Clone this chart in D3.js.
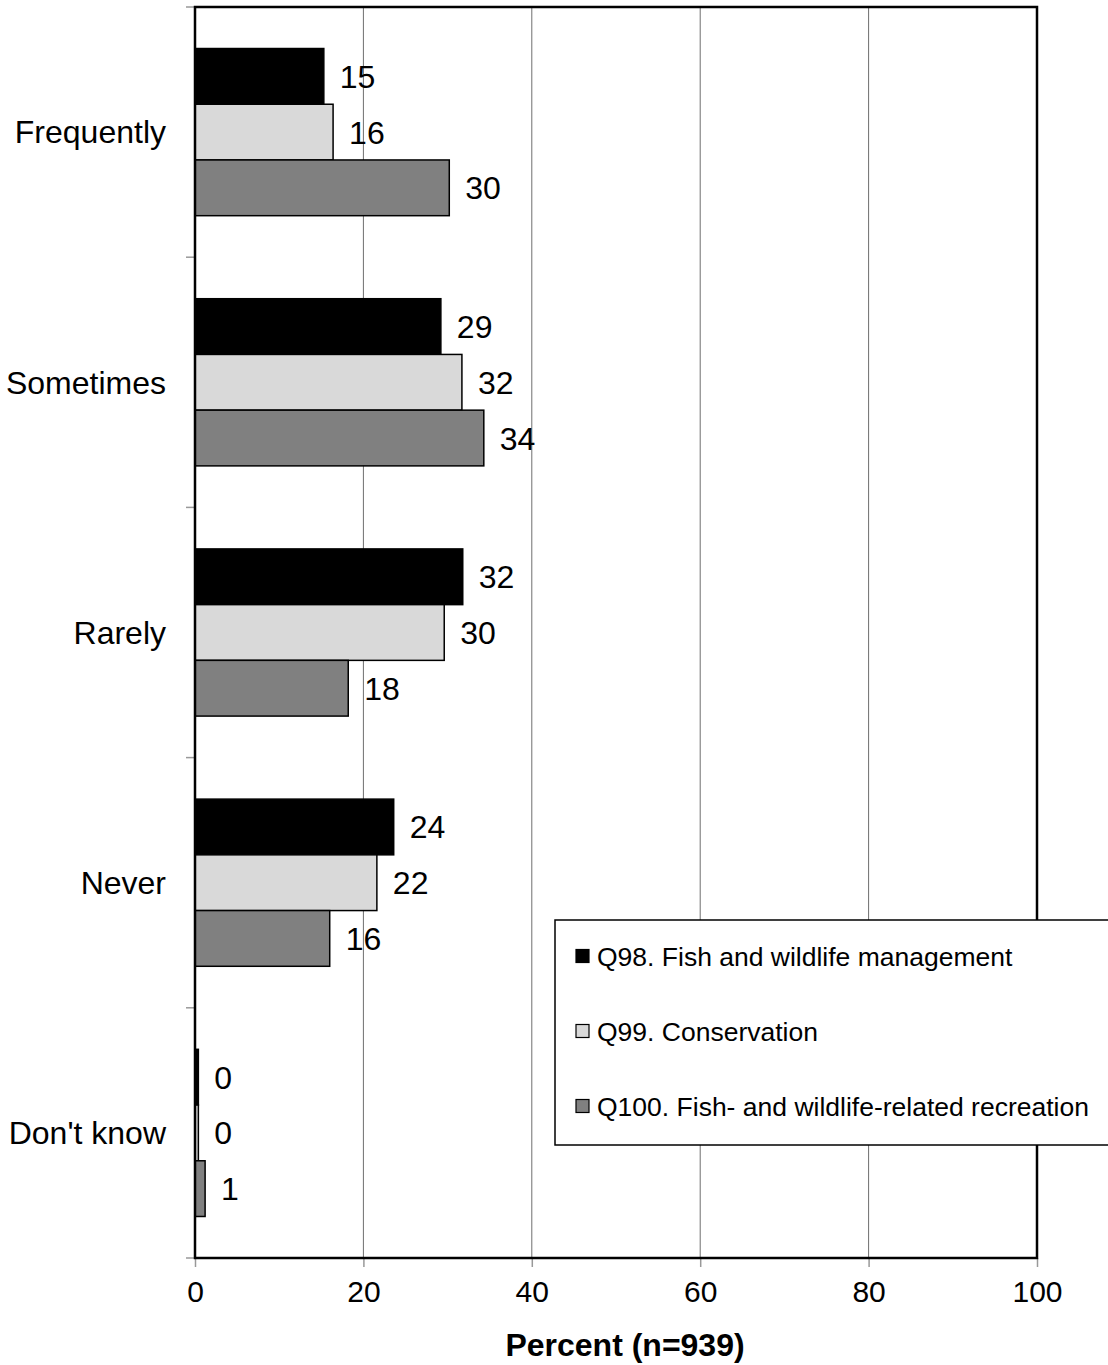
<!DOCTYPE html>
<html>
<head>
<meta charset="utf-8">
<script src="https://cdn.jsdelivr.net/npm/d3@7"></script>
<style>
  body { margin: 0; background: #fff; }
  svg { font-family: "Liberation Sans", Arial, sans-serif; }
</style>
</head>
<body>
<svg id="drawing_region"></svg>
<script>
// categories (top to bottom) and the three series
const categories = ["Frequently", "Sometimes", "Rarely", "Never", "Don't know"];
const series = ["Q98. Fish and wildlife management", "Q99. Conservation", "Q100. Fish- and wildlife-related recreation"];
const q98 = [15.3, 29.2, 31.8, 23.6, 0.4];
const q99 = [16.4, 31.7, 29.6, 21.6, 0.4];
const q100 = [30.2, 34.3, 18.2, 16.0, 1.2];
const xTicks = [0, 20, 40, 60, 80, 100];
const colors = ["#000000", "#d9d9d9", "#808080"];

const config = {
    width: 1108,
    height: 1365,
    margin: { top: 7, right: 71, bottom: 107, left: 195 }
};

const svg = d3.select('#drawing_region')
    .attr('width', config.width)
    .attr('height', config.height);

const inner_width = config.width - config.margin.left - config.margin.right;
const inner_height = config.height - config.margin.top - config.margin.bottom;

const chart = svg.append('g')
    .attr('transform', `translate(${config.margin.left},${config.margin.top})`);

const xscale = d3.scaleLinear().domain([0, 100]).range([0, inner_width]);
const yscale = d3.scaleBand().domain(categories).range([0, inner_height]);
const subscale = d3.scaleBand().domain(d3.range(series.length))
    .range([0, yscale.bandwidth()]).paddingOuter(0.745);

// gridlines
chart.selectAll('.grid').data(xTicks.slice(1, -1)).enter()
    .append('line')
    .attr('x1', d => xscale(d)).attr('x2', d => xscale(d))
    .attr('y1', 0).attr('y2', inner_height)
    .attr('stroke', '#6e6e6e').attr('stroke-width', 1);

// axes (ticks only, gray)
const yticks = chart.append('g');
yticks.selectAll('line').data(d3.range(categories.length + 1)).enter()
    .append('line')
    .attr('x1', -9).attr('x2', 0)
    .attr('y1', i => i * yscale.step()).attr('y2', i => i * yscale.step())
    .attr('stroke', '#999').attr('stroke-width', 1.5);

const xaxis = d3.axisBottom(xscale).tickValues(xTicks).tickSize(9).tickPadding(14);
const xg = chart.append('g')
    .attr('transform', `translate(0,${inner_height})`)
    .call(xaxis);
xg.select('.domain').remove();
xg.selectAll('line').attr('stroke', '#999').attr('stroke-width', 1.5);
xg.selectAll('text').attr('font-size', 30).attr('fill', '#000')
    .attr('font-family', '"Liberation Sans", Arial, sans-serif');

// category labels
chart.selectAll('.cat').data(categories).enter()
    .append('text')
    .attr('x', -29)
    .attr('y', d => yscale(d) + yscale.bandwidth() / 2)
    .attr('dy', '0.35em')
    .attr('text-anchor', 'end')
    .attr('font-size', 32)
    .text(d => d);

// bars
const values = [q98, q99, q100];
const bars = [];
categories.forEach((c, ci) => {
    values.forEach((s, si) => bars.push({ cat: c, s: si, v: s[ci] }));
});

chart.selectAll('.bar').data(bars).enter()
    .append('rect')
    .attr('x', 0)
    .attr('y', d => yscale(d.cat) + subscale(d.s))
    .attr('width', d => xscale(d.v))
    .attr('height', subscale.bandwidth())
    .attr('fill', d => colors[d.s])
    .attr('stroke', '#000')
    .attr('stroke-width', 1.5);

chart.selectAll('.val').data(bars).enter()
    .append('text')
    .attr('x', d => xscale(d.v) + 16)
    .attr('y', d => yscale(d.cat) + subscale(d.s) + subscale.bandwidth() / 2)
    .attr('dy', '0.36em')
    .attr('font-size', 32)
    .text(d => Math.round(d.v));

// plot border
chart.append('rect')
    .attr('width', inner_width).attr('height', inner_height)
    .attr('fill', 'none').attr('stroke', '#000').attr('stroke-width', 2.5);

// axis title
svg.append('text')
    .attr('x', 625)
    .attr('y', 1356)
    .attr('text-anchor', 'middle')
    .attr('font-size', 32)
    .attr('font-weight', 'bold')
    .text('Percent (n=939)');

// legend
const legend = svg.append('g').attr('transform', 'translate(555,920)');
legend.append('rect')
    .attr('width', 580).attr('height', 225)
    .attr('fill', '#fff').attr('stroke', '#000').attr('stroke-width', 1.5);
const item = legend.selectAll('.item').data(series).enter()
    .append('g')
    .attr('transform', (d, i) => `translate(21,${36 + i * 75})`);
item.append('rect')
    .attr('x', 0).attr('y', -6.5).attr('width', 13).attr('height', 13)
    .attr('fill', (d, i) => colors[i]).attr('stroke', '#000').attr('stroke-width', 1.2);
item.append('text')
    .attr('x', 21).attr('dy', '0.36em')
    .attr('font-size', 26.5)
    .text(d => d);
</script>
</body>
</html>
